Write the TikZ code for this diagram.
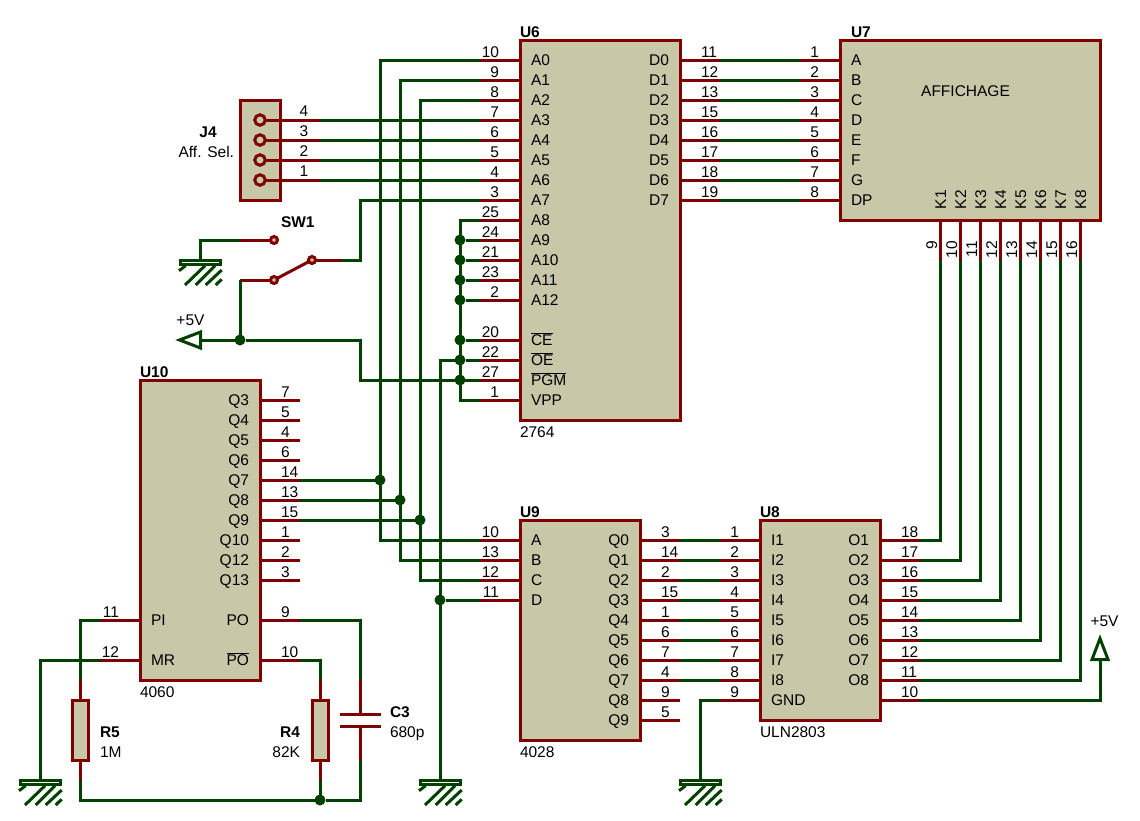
\documentclass[tikz,border=0pt]{standalone}
\usepackage{fontspec}
\setmainfont{Liberation Sans}
\usetikzlibrary{calc,positioning}

\definecolor{pinred}{RGB}{128,0,0}
\definecolor{wiregreen}{RGB}{0,64,0}
\definecolor{bodytan}{RGB}{200,200,168}

\newcommand{\schfont}{\fontsize{15.5}{18}\selectfont}
\newcommand{\ovl}[1]{$\overline{\mbox{#1}}$}

\tikzset{
    pinline/.style={draw=pinred,line width=3pt},
    wire/.style={draw=wiregreen,line width=3pt},
    chip/.style={draw=pinred,fill=bodytan,line width=3pt,inner sep=0pt,outer sep=0pt,anchor=north west},
    txt/.style={inner sep=0pt,outer sep=0pt,text=black,font=\schfont},
    refname/.style={txt,font=\schfont\bfseries},
    dot/.style={circle,fill=wiregreen,inner sep=0pt,outer sep=0pt,minimum size=11pt},
    pad/.style={circle,draw=pinred,fill=bodytan,line width=3pt,inner sep=0pt,outer sep=0pt,minimum size=10.5pt},
    term/.style={circle,draw=pinred,fill=bodytan,line width=3pt,inner sep=0pt,outer sep=0pt,minimum size=7pt},
    gndsym/.pic={
        \draw[wiregreen,line width=3pt,fill=white] (-20,0.5) rectangle (20.5,4.5);
        \draw[wiregreen,line width=3pt]
            (-21,10.7) -- (-14.3,5.7) (-15,25) -- (5,5.7) (-4.3,25) -- (15,5.7)
            (5.7,25) -- (21.7,10) (15.7,25) -- (21.7,19.3);
    },
    vccsym/.pic={
        \draw[wiregreen,line width=3pt,fill=white,line join=miter] (-8,-0.5) -- (0,-21.5) -- (8,-0.5) -- cycle;
    },
}

\newcommand{\pinW}[5]{
    \path (#1.west |- 0,#3) coordinate (#1#2i) ++(-40,0) coordinate (#1#2);
    \draw[pinline] (#1#2) -- (#1#2i);
    \node[txt,anchor=base east] at ($(#1#2i)+(-21,-3)$) {#4};
    \node[txt,anchor=base west] at ($(#1#2i)+(11,5.5)$) {#5};
}
\newcommand{\pinE}[5]{
    \path (#1.east |- 0,#3) coordinate (#1#2i) ++(40,0) coordinate (#1#2);
    \draw[pinline] (#1#2i) -- (#1#2);
    \node[txt,anchor=base west] at ($(#1#2i)+(21,-3)$) {#4};
    \node[txt,anchor=base east] at ($(#1#2i)+(-11,5.5)$) {#5};
}
\newcommand{\pinS}[5]{
    \path (#3,0 |- #1.south) coordinate (#1#2i) ++(0,40) coordinate (#1#2);
    \draw[pinline] (#1#2i) -- (#1#2);
    \node[txt,rotate=90,anchor=base east] at ($(#1#2i)+(-3,21)$) {#4};
    \node[txt,rotate=90,anchor=base west] at ($(#1#2i)+(6,-11)$) {#5};
}

\begin{document}
\begin{tikzpicture}[x=1pt,y=-1pt]
    \useasboundingbox (0,0) rectangle (1140,820);

    \node[chip,minimum width=160pt,minimum height=380pt] (U6) at (520,40) {};
    \node[chip,minimum width=260pt,minimum height=180pt] (U7) at ($(U6.north east)+(160,0)$) {};
    \node[chip,minimum width=120pt,minimum height=220pt] (U9) at ($(U6.south west)+(0,100)$) {};
    \node[chip,minimum width=120pt,minimum height=200pt] (U8) at ($(U9.north east)+(120,0)$) {};
    \node[chip,minimum width=120pt,minimum height=300pt] (U10) at (140,380) {};
    \node[chip,minimum width=40pt,minimum height=100pt] (J4) at (240,100) {};
    \node[chip,minimum width=16pt,minimum height=60pt] (R5) at (72,700) {};
    \node[chip,minimum width=16pt,minimum height=60pt] (R4) at (312,700) {};

    \node[refname,anchor=base west] at ($(U6.north west)+(0,-3)$) {U6};
    \node[txt,anchor=base west] at ($(U6.south west)+(0,17)$) {2764};
    \node[refname,anchor=base west] at ($(U7.north west)+(11,-3)$) {U7};
    \node[txt] at (965.5,91) {AFFICHAGE};
    \node[refname,anchor=base west] at ($(U9.north west)+(0,-3)$) {U9};
    \node[txt,anchor=base west] at ($(U9.south west)+(0,17)$) {4028};
    \node[refname,anchor=base west] at ($(U8.north west)+(0,-3)$) {U8};
    \node[txt,anchor=base west] at ($(U8.south west)+(0,17)$) {ULN2803};
    \node[refname,anchor=base west] at ($(U10.north west)+(0,-3)$) {U10};
    \node[txt,anchor=base west] at ($(U10.south west)+(0,17)$) {4060};
    \node[refname,anchor=base] at (208,137) {J4};
    \node[txt,anchor=base east] at (234,157) {Aff. Sel.};
    \node[refname,anchor=base west] at (281,227) {SW1};
    \node[refname,anchor=base west] at (100,737) {R5};
    \node[txt,anchor=base west] at (100,757) {1M};
    \node[refname,anchor=base east] at (300,737) {R4};
    \node[txt,anchor=base east] at (300,757) {82K};
    \node[refname,anchor=base west] at (390,717) {C3};
    \node[txt,anchor=base west] at (390,737) {680p};
    \node[txt] at (190.5,320.5) {+5V};
    \node[txt] at (1104.5,621) {+5V};

    \foreach \n/\y/\num/\lab in {A0/60/10/A0,A1/80/9/A1,A2/100/8/A2,A3/120/7/A3,A4/140/6/A4,A5/160/5/A5,
        A6/180/4/A6,A7/200/3/A7,A8/220/25/A8,A9/240/24/A9,A10/260/21/A10,A11/280/23/A11,A12/300/2/A12,
        CE/340/20/\ovl{CE},OE/360/22/\ovl{OE},PGM/380/27/\ovl{PGM},VPP/400/1/VPP}
        {\pinW{U6}{\n}{\y}{\num}{\lab}}
    \foreach \n/\y/\num in {D0/60/11,D1/80/12,D2/100/13,D3/120/15,D4/140/16,D5/160/17,D6/180/18,D7/200/19}
        {\pinE{U6}{\n}{\y}{\num}{\n}}
    \foreach \n/\y/\num in {A/60/1,B/80/2,C/100/3,D/120/4,E/140/5,F/160/6,G/180/7,DP/200/8}
        {\pinW{U7}{\n}{\y}{\num}{\n}}
    \foreach \n/\x/\num in {K1/940/9,K2/960/10,K3/980/11,K4/1000/12,K5/1020/13,K6/1040/14,K7/1060/15,K8/1080/16}
        {\pinS{U7}{\n}{\x}{\num}{\n}}
    \foreach \n/\y/\num in {A/540/10,B/560/13,C/580/12,D/600/11}
        {\pinW{U9}{\n}{\y}{\num}{\n}}
    \foreach \n/\y/\num in {Q0/540/3,Q1/560/14,Q2/580/2,Q3/600/15,Q4/620/1,Q5/640/6,Q6/660/7,Q7/680/4,Q8/700/9,Q9/720/5}
        {\pinE{U9}{\n}{\y}{\num}{\n}}
    \foreach \n/\y/\num in {I1/540/1,I2/560/2,I3/580/3,I4/600/4,I5/620/5,I6/640/6,I7/660/7,I8/680/8,GND/700/9}
        {\pinW{U8}{\n}{\y}{\num}{\n}}
    \foreach \n/\y/\num in {O1/540/18,O2/560/17,O3/580/16,O4/600/15,O5/620/14,O6/640/13,O7/660/12,O8/680/11}
        {\pinE{U8}{\n}{\y}{\num}{\n}}
    \pinE{U8}{COM}{700}{10}{}
    \foreach \n/\y/\num in {Q3/400/7,Q4/420/5,Q5/440/4,Q6/460/6,Q7/480/14,Q8/500/13,Q9/520/15,Q10/540/1,Q12/560/2,Q13/580/3}
        {\pinE{U10}{\n}{\y}{\num}{\n}}
    \pinE{U10}{PO}{620}{9}{PO}
    \pinE{U10}{NPO}{660}{10}{\ovl{PO}}
    \pinW{U10}{PI}{620}{11}{PI}
    \pinW{U10}{MR}{660}{12}{MR}

    \foreach \n/\y in {4/120,3/140,2/160,1/180} {
        \node[pad] (J4c\n) at (260,\y) {};
        \coordinate (J4p\n) at (320,\y);
        \draw[pinline] (J4c\n) -- (J4p\n);
        \node[txt] at (304,\y-9) {\n};
    }

    \node[term] (SW1a) at (274,240) {};
    \node[term] (SW1b) at (274,280) {};
    \node[term] (SW1c) at (312,260) {};
    \coordinate (SW1pa) at (240,240);
    \coordinate (SW1pb) at (240,280);
    \coordinate (SW1pc) at (341,260);
    \draw[pinline] (SW1pa) -- (SW1a);
    \draw[pinline] (SW1pb) -- (SW1b);
    \draw[pinline] (SW1b) -- (SW1c);
    \draw[pinline] (SW1c) -- (SW1pc);

    \coordinate (G1) at (200,260);
    \coordinate (G2) at (440,780);
    \coordinate (G3) at (40,780);
    \coordinate (G4) at (700,780);
    \foreach \g in {G1,G2,G3,G4} \pic at (\g) {gndsym};

    \coordinate (V1) at (201,340);
    \coordinate (V2) at (1100,660);
    \pic[rotate=90] at (V1) {vccsym};
    \pic at (V2) {vccsym};

    \coordinate (R5a) at (80,680);
    \coordinate (R5b) at (80,780);
    \coordinate (R4a) at (320,680);
    \coordinate (R4b) at (320,780);
    \draw[pinline] (R5a) -- (R5);
    \draw[pinline] (R5) -- (R5b);
    \draw[pinline] (R4a) -- (R4);
    \draw[pinline] (R4) -- (R4b);

    \coordinate (C3a) at (360,680);
    \coordinate (C3b) at (360,760);
    \coordinate (C3t) at (360,714);
    \coordinate (C3u) at (360,726);
    \draw[pinline] (C3a) -- (C3t);
    \draw[pinline] (C3u) -- (C3b);
    \draw[pinline] ($(C3t)+(-20,0)$) -- ($(C3t)+(21,0)$);
    \draw[pinline] ($(C3u)+(-20,0)$) -- ($(C3u)+(21,0)$);

    \node[dot] (jQ7) at (380,480) {};
    \node[dot] (jQ8) at (400,500) {};
    \node[dot] (jQ9) at (420,520) {};
    \node[dot] (jGND) at (440,600) {};
    \node[dot] (jV) at (240,340) {};
    \node[dot] (jR) at (320,800) {};
    \foreach \n/\y in {A9/240,A10/260,A11/280,A12/300,CE/340,OE/360,PGM/380}
        {\node[dot] (j\n) at (460,\y) {};}

    \draw[wire] (U6A0) -- ++(-100,0) |- (U9A);
    \draw[wire] (U6A1) -- ++(-80,0) |- (U9B);
    \draw[wire] (U6A2) -- ++(-60,0) |- (U9C);
    \draw[wire] (U10Q7) -- (jQ7);
    \draw[wire] (U10Q8) -- (jQ8);
    \draw[wire] (U10Q9) -- (jQ9);
    \draw[wire] (J4p4) -- (U6A3);
    \draw[wire] (J4p3) -- (U6A4);
    \draw[wire] (J4p2) -- (U6A5);
    \draw[wire] (J4p1) -- (U6A6);
    \draw[wire] (SW1pc) -- ++(19,0) |- (U6A7);
    \draw[wire] (SW1pa) -| (G1);
    \draw[wire] (SW1pb) -- (jV);
    \draw[wire] (V1) -- (jV);
    \draw[wire] (jV) -- ++(120,0) |- (U6PGM);
    \draw[wire] (U6A8) -- ++(-20,0) |- (U6VPP);
    \foreach \n in {A9,A10,A11,A12,CE,OE}
        {\draw[wire] (U6\n) -- (j\n);}
    \draw[wire] (jOE) -| (G2);
    \draw[wire] (U9D) -- (jGND);
    \foreach \a/\b in {D0/A,D1/B,D2/C,D3/D,D4/E,D5/F,D6/G,D7/DP}
        {\draw[wire] (U6\a) -- (U7\b);}
    \foreach \a/\b in {Q0/I1,Q1/I2,Q2/I3,Q3/I4,Q4/I5,Q5/I6,Q6/I7,Q7/I8}
        {\draw[wire] (U9\a) -- (U8\b);}
    \foreach \a/\b in {O1/K1,O2/K2,O3/K3,O4/K4,O5/K5,O6/K6,O7/K7,O8/K8}
        {\draw[wire] (U8\a) -| (U7\b);}
    \draw[wire] (U8COM) -| (V2);
    \draw[wire] (U8GND) -| (G4);
    \draw[wire] (U10MR) -| (G3);
    \draw[wire] (U10PI) -| (R5a);
    \draw[wire] (U10NPO) -| (R4a);
    \draw[wire] (U10PO) -| (C3a);
    \draw[wire] (R5b) |- (jR);
    \draw[wire] (R4b) -- (jR);
    \draw[wire] (C3b) |- (jR);
\end{tikzpicture}
\end{document}
